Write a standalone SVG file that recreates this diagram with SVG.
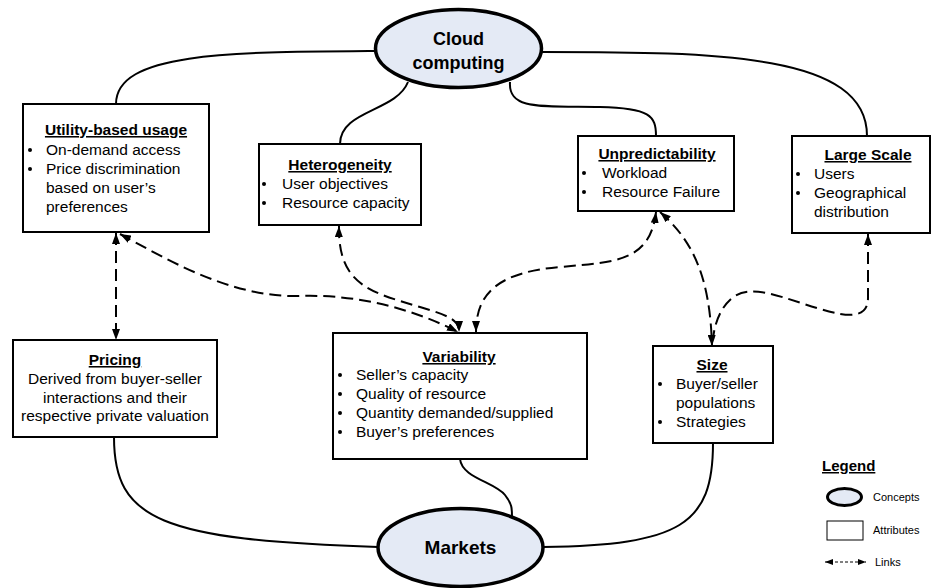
<svg xmlns="http://www.w3.org/2000/svg" width="933" height="588" viewBox="0 0 933 588">
  <style>
    .box { fill: #ffffff; stroke: #000000; stroke-width: 2; }
    .concept { fill: #E4EAF5; stroke: #000000; stroke-width: 3.5; }
    .t { font-family: "Liberation Sans", Arial, sans-serif; font-size: 15.5px; fill: #000000; }
    .h { font-weight: bold; text-decoration: underline; text-anchor: middle; }
    .c { text-anchor: middle; }
    .big { font-weight: bold; font-size: 18px; text-anchor: middle; }
    .bul { fill: #000000; }
    .link { fill: none; stroke: #000000; stroke-width: 2; }
    .dash { stroke-dasharray: 12 6; }
    .lg { font-family: "Liberation Sans", Arial, sans-serif; font-size: 11px; fill: #000000; }
  </style>
  <defs>
    <marker id="arrow" markerUnits="userSpaceOnUse" markerWidth="11" markerHeight="8" refX="11" refY="4" orient="auto-start-reverse">
      <path d="M0,0 L11,4 L0,8 z" fill="#000000" stroke="none"/>
    </marker>
    <marker id="arrowSmall" markerUnits="userSpaceOnUse" markerWidth="8" markerHeight="6" refX="8" refY="3" orient="auto-start-reverse">
      <path d="M0,0 L8,3 L0,6 z" fill="#000000" stroke="none"/>
    </marker>
  </defs>

  <!-- connectors -->
  <g id="connectors">
    <!-- solid links: concepts to attributes -->
    <path class="link" d="M375,51 C230,52 116,52 116,104"/>
    <path class="link" d="M408,82 C396,112 340,110 340,144"/>
    <path class="link" d="M510,82 C508,110 540,106 600,107 C650,108 656,116 656,136"/>
    <path class="link" d="M542,52 C720,52 867,54 867,136"/>
    <path class="link" d="M114,437 C114,520 160,540 378,547"/>
    <path class="link" d="M460,459 C462,478 495,482 505,495 C512,504 512,508 512,517"/>
    <path class="link" d="M713,443 C713,525 680,545 543,547"/>
    <!-- dashed links between attributes -->
    <path class="link dash" marker-start="url(#arrow)" marker-end="url(#arrow)" d="M116,233 L116,340"/>
    <path class="link dash" marker-start="url(#arrow)" marker-end="url(#arrow)" d="M120,234 C165,258 230,298 300,296 C360,294 415,310 458,332"/>
    <path class="link dash" marker-start="url(#arrow)" marker-end="url(#arrow)" d="M339,226 C338,285 370,292 420,307 C450,316 459,320 459,332"/>
    <path class="link dash" marker-start="url(#arrow)" marker-end="url(#arrow)" d="M656,212 C650,262 615,262 560,267 C500,272 476,292 476,332"/>
    <path class="link dash" marker-start="url(#arrow)" marker-end="url(#arrow)" d="M660,212 C692,240 710,275 712,346"/>
    <path class="link dash" marker-start="url(#arrow)" d="M868,234 L868,298 C868,318 850,318 820,309 C780,297 752,283 732,298 C720,308 714,325 713,340"/>
  </g>

  <!-- concepts -->
  <g id="cloud">
    <ellipse class="concept" cx="458.5" cy="48.5" rx="83" ry="39"/>
    <text class="t big" x="458.5" y="45">Cloud</text>
    <text class="t big" x="458.5" y="69">computing</text>
  </g>
  <g id="markets">
    <ellipse class="concept" cx="460.5" cy="547.5" rx="82.5" ry="39"/>
    <text class="t big" x="460.5" y="554" style="font-size:19px">Markets</text>
  </g>

  <!-- attributes -->
  <g id="utility">
    <rect class="box" x="23" y="104" width="186" height="128"/>
    <text class="t h" x="116" y="135">Utility-based usage</text>
    <circle class="bul" cx="30" cy="150" r="2"/>
    <circle class="bul" cx="30" cy="169" r="2"/>
    <text class="t" x="46" y="155">On-demand access</text>
    <text class="t" x="46" y="174">Price discrimination</text>
    <text class="t" x="46" y="193">based on user’s</text>
    <text class="t" x="46" y="212">preferences</text>
  </g>
  <g id="heterogeneity">
    <rect class="box" x="259" y="144" width="162" height="81"/>
    <text class="t h" x="340" y="170">Heterogeneity</text>
    <circle class="bul" cx="264" cy="184" r="2"/>
    <circle class="bul" cx="264" cy="203" r="2"/>
    <text class="t" x="282" y="189">User objectives</text>
    <text class="t" x="282" y="208">Resource capacity</text>
  </g>
  <g id="unpredictability">
    <rect class="box" x="578" y="136" width="156" height="75"/>
    <text class="t h" x="657" y="159">Unpredictability</text>
    <circle class="bul" cx="584" cy="173" r="2"/>
    <circle class="bul" cx="584" cy="192" r="2"/>
    <text class="t" x="602" y="178">Workload</text>
    <text class="t" x="602" y="197">Resource Failure</text>
  </g>
  <g id="large-scale">
    <rect class="box" x="792" y="136" width="138" height="97"/>
    <text class="t h" x="868" y="160">Large Scale</text>
    <circle class="bul" cx="798" cy="174" r="2"/>
    <circle class="bul" cx="798" cy="193" r="2"/>
    <text class="t" x="814" y="179">Users</text>
    <text class="t" x="814" y="198">Geographical</text>
    <text class="t" x="814" y="217">distribution</text>
  </g>
  <g id="pricing">
    <rect class="box" x="13" y="340" width="204" height="97"/>
    <text class="t h" x="115" y="365">Pricing</text>
    <text class="t c" x="115" y="384">Derived from buyer-seller</text>
    <text class="t c" x="115" y="403">interactions and their</text>
    <text class="t c" x="115" y="421">respective private valuation</text>
  </g>
  <g id="variability">
    <rect class="box" x="333" y="333" width="254" height="126"/>
    <text class="t h" x="459" y="362">Variability</text>
    <circle class="bul" cx="340" cy="375" r="2"/>
    <circle class="bul" cx="340" cy="394" r="2"/>
    <circle class="bul" cx="340" cy="413" r="2"/>
    <circle class="bul" cx="340" cy="432" r="2"/>
    <text class="t" x="356" y="380">Seller’s capacity</text>
    <text class="t" x="356" y="399">Quality of resource</text>
    <text class="t" x="356" y="418">Quantity demanded/supplied</text>
    <text class="t" x="356" y="437">Buyer’s preferences</text>
  </g>
  <g id="size">
    <rect class="box" x="653" y="346" width="120" height="97"/>
    <text class="t h" x="712" y="370">Size</text>
    <circle class="bul" cx="660" cy="384" r="2"/>
    <circle class="bul" cx="660" cy="422" r="2"/>
    <text class="t" x="676" y="389">Buyer/seller</text>
    <text class="t" x="676" y="408">populations</text>
    <text class="t" x="676" y="427">Strategies</text>
  </g>

  <!-- legend -->
  <g id="legend">
    <text class="t" x="822" y="471" style="font-weight:bold;text-decoration:underline;font-size:15px">Legend</text>
    <ellipse cx="844.5" cy="497" rx="17" ry="8.5" fill="#E4EAF5" stroke="#000000" stroke-width="3"/>
    <text class="lg" x="873" y="501">Concepts</text>
    <rect x="827" y="521" width="36" height="19" fill="#ffffff" stroke="#000000" stroke-width="1"/>
    <text class="lg" x="873" y="534">Attributes</text>
    <path d="M825,562 L866,562" fill="none" stroke="#000000" stroke-width="1" stroke-dasharray="3 2" marker-start="url(#arrowSmall)" marker-end="url(#arrowSmall)"/>
    <text class="lg" x="875" y="566">Links</text>
  </g>
</svg>
